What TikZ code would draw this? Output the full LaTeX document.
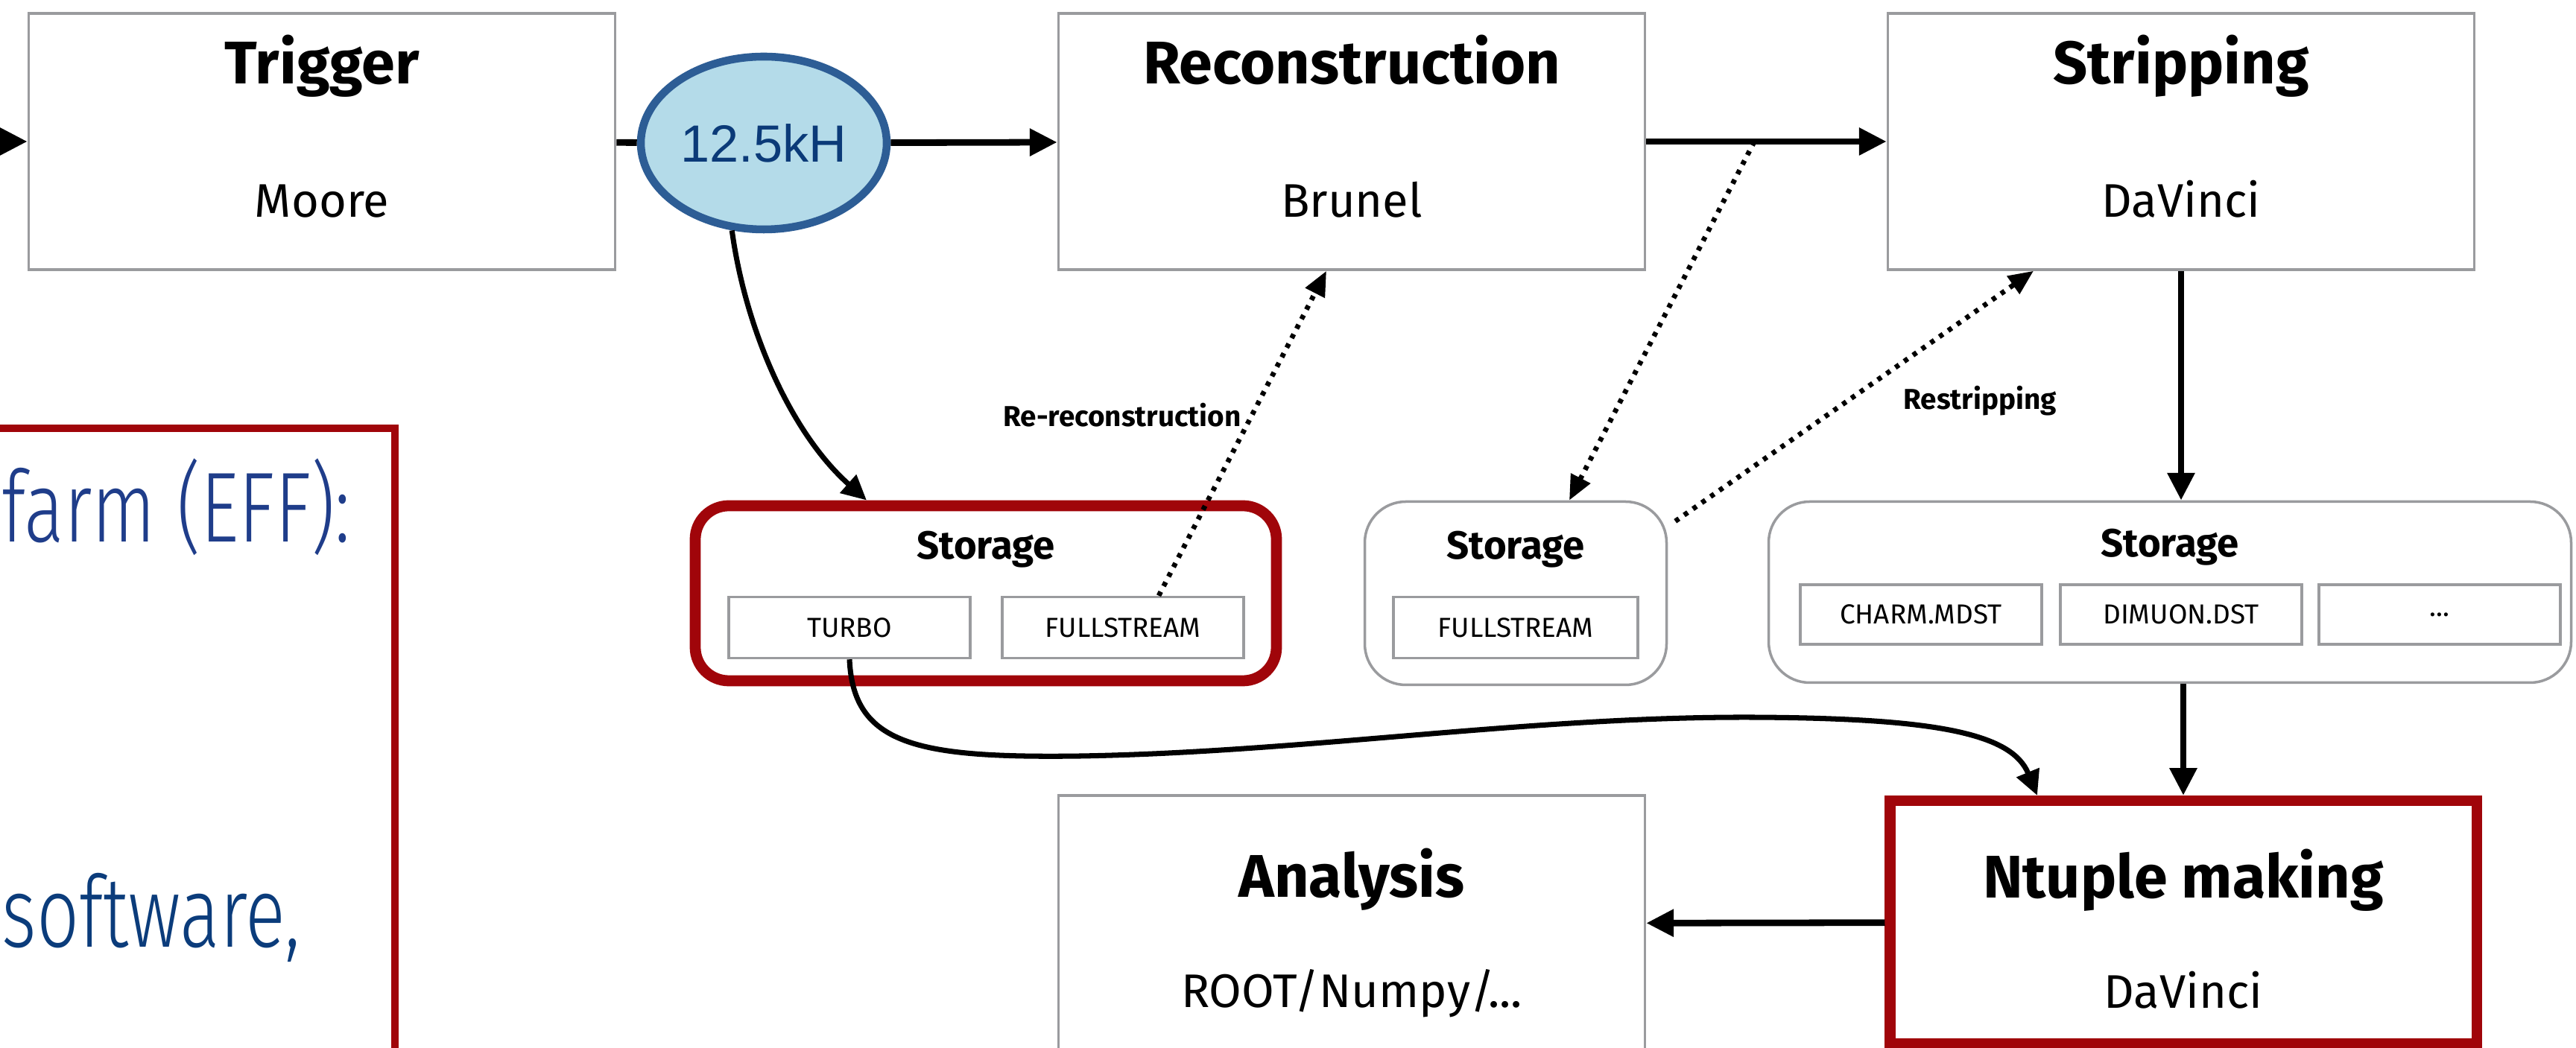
\documentclass[tikz,border=0pt]{standalone}
\usepackage{fontspec}
\setmainfont{Fira Sans}
\newfontfamily\ratefont{Liberation Sans}
\IfFontExistsTF{Fira Sans Light}
  {\newfontfamily\slidefont[FakeStretch=0.75]{Fira Sans Light}}
  {\newfontfamily\slidefont[FakeStretch=0.72]{Fira Sans}}
\usetikzlibrary{arrows.meta,calc,positioning,shapes.geometric}

\definecolor{boxgrey}{HTML}{9A9B9E}
\definecolor{hlred}{HTML}{A0050A}
\definecolor{ratefill}{HTML}{B4DBE9}
\definecolor{rateedge}{HTML}{2D5D95}
\definecolor{ratetext}{HTML}{0B3A78}
\definecolor{slideblue}{HTML}{1F3D8A}
\definecolor{slidenavy}{HTML}{0B3C7B}

\tikzset{
  stagebox/.style={draw=boxgrey,line width=1pt,minimum width=7.87cm,minimum height=3.44cm,inner sep=0pt},
  stagetitle/.style={anchor=base,inner sep=0pt,font=\bfseries\fontsize{23}{28}\selectfont},
  stagetool/.style={anchor=base,inner sep=0pt,font=\fontsize{18}{22}\selectfont},
  store/.style={draw=boxgrey,line width=1pt,rounded corners=0.55cm,minimum height=2.46cm,inner sep=0pt},
  storetitle/.style={anchor=base,inner sep=0pt,font=\bfseries\fontsize{15}{18}\selectfont},
  file/.style={draw=boxgrey,line width=1pt,minimum width=3.24cm,minimum height=0.82cm,inner sep=0pt,font=\fontsize{10.5}{12}\selectfont},
  flow/.style={line width=2.5pt,-{Triangle[length=10.5pt,width=10pt]}},
  feed/.style={line width=2pt,-{Triangle[length=9.5pt,width=9pt]}},
  redo/.style={line width=1.9pt,dash pattern=on 1.7pt off 2.4pt,-{Triangle[length=9.5pt,width=8pt]}},
  redolabel/.style={inner sep=0pt,font=\bfseries\fontsize{11}{13}\selectfont},
}

% 方框 + 标题 + 软件名, \titledrop/\tooldrop: 从上边往下的距离
\def\titledrop{0.96}
\def\tooldrop{2.75}
\newcommand{\flowstage}[5][]{%
  \node[stagebox,#1] (#2) at (#3) {};
  \node[stagetitle] (#2-title) at ($(#2.north)+(0,-\titledrop)$) {#4};
  \node[stagetool] (#2-tool) at ($(#2.north)+(0,-\tooldrop)$) {#5};
}

\begin{document}
\begin{tikzpicture}
\useasboundingbox (0,0) rectangle (34.57,-14.07);

% 左边的幻灯片文字
\node[draw=hlred,line width=2.6pt,minimum width=7cm,minimum height=9cm,inner sep=0pt] (eff) at (1.80,-10.25) {};
\node[anchor=base west,inner sep=0pt,text=slideblue,font=\slidefont\fontsize{38}{44}\selectfont] (efftext) at (0.02,-7.28) {farm (EFF):};
\node[anchor=base west,inner sep=0pt,text=slidenavy,font=\slidefont\fontsize{38}{44}\selectfont] (swtext) at (0.02,-12.72) {software,};

\flowstage{trigger}{4.32,-1.90}{Trigger}{Moore}
\flowstage{reco}{18.14,-1.90}{Reconstruction}{Brunel}
\flowstage{strip}{29.27,-1.90}{Stripping}{DaVinci}
\def\titledrop{1.38}
\def\tooldrop{2.86}
\flowstage{analysis}{18.14,-12.40}{Analysis}{ROOT/Numpy/...}
\flowstage[draw=hlred,line width=4pt,minimum height=3.26cm]{ntuple}{29.30,-12.38}{Ntuple making}{DaVinci}

\node[ellipse,draw=rateedge,fill=ratefill,line width=3pt,minimum width=3.3cm,minimum height=2.32cm,inner sep=0pt,text=ratetext,font=\ratefont\fontsize{20}{24}\selectfont] (rate) at (10.25,-1.92) {12.5kH};

% 存储
\node[store,draw=hlred,line width=4.2pt,rounded corners=0.45cm,minimum width=7.80cm,minimum height=2.35cm] (storeA) at (13.23,-7.965) {};
\node[store,minimum width=4.05cm] (storeB) at (20.34,-7.965) {};
\node[store,minimum width=10.77cm,minimum height=2.43cm] (storeC) at (29.12,-7.95) {};
\node[storetitle] (storeA-title) at ($(storeA.north)+(0,-0.79)$) {Storage};
\node[storetitle] (storeB-title) at ($(storeB.north)+(0,-0.79)$) {Storage};
\node[storetitle] (storeC-title) at ($(storeC.north)+(0,-0.76)$) {Storage};

\node[file] (turbo) at (11.40,-8.425) {TURBO};
\node[file] (fullA) at (15.07,-8.425) {FULLSTREAM};
\node[file,minimum width=3.28cm] (fullB) at (20.34,-8.425) {FULLSTREAM};
\node[file,minimum height=0.80cm] (charm) at (25.78,-8.25) {CHARM.MDST};
\node[file,minimum height=0.80cm] (dimuon) at (29.27,-8.25) {DIMUON.DST};
\node[file,minimum height=0.80cm] (more) at (32.74,-8.25) {...};

% 主流程
\coordinate (in) at (-0.8,-1.90);
\draw[flow] (in) -- (trigger);
\draw[line width=2.5pt] (trigger) -- (rate);
\draw[flow] (rate) -- (reco);
\draw[flow] (reco) -- (strip);
\draw[flow] (strip.south) -- (strip.south |- storeC.north);
\draw[flow] (storeC.south -| ntuple.north) -- (ntuple.north);
\draw[flow] (ntuple) -- (analysis);

% 曲线
\draw[feed] (rate.-110) .. controls (10.00,-4.40) and (10.60,-5.80) .. ($(storeA.north)+(-1.60,0)$);
\draw[feed] (turbo.south) .. controls (11.45,-10.0) and (12.3,-10.18) .. (14.5,-10.15)
  .. controls (17.5,-10.1) and (20.5,-9.62) .. (23.5,-9.63)
  .. controls (26.0,-9.64) and (27.0,-9.85) .. ($(ntuple.north)+(-1.96,0)$);

% 虚线: 重新处理
\coordinate (split) at ($(reco.east)!0.45!(strip.west)$);
\draw[redo] ($(fullA.north)+(0.48,0)$) -- ($(reco.south)+(-0.34,0)$);
\draw[redo] (split) -- ($(storeB.north)+(0.72,0)$);
\draw[redo] ($(storeB.north east)+(0.10,-0.28)$) -- ($(strip.south)+(-1.98,0)$);
\node[redolabel] (rereco) at (15.06,-5.57) {Re-reconstruction};
\node[redolabel] (restrip) at (26.57,-5.38) {Restripping};
\end{tikzpicture}
\end{document}
